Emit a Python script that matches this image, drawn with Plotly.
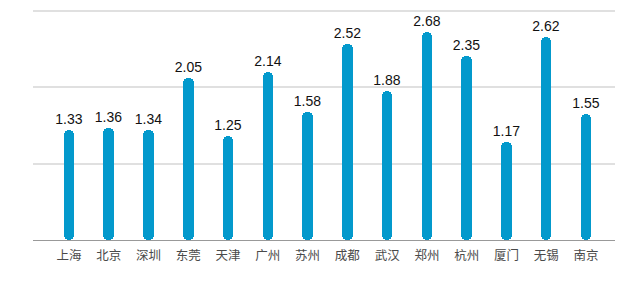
import plotly.graph_objects as go

cities = ["上海", "北京", "深圳", "东莞", "天津", "广州", "苏州", "成都",
          "武汉", "郑州", "杭州", "厦门", "无锡", "南京"]
values = [1.33, 1.36, 1.34, 2.05, 1.25, 2.14, 1.58, 2.52,
          1.88, 2.68, 2.35, 1.17, 2.62, 1.55]
value_labels = ["1.33", "1.36", "1.34", "2.05", "1.25", "2.14", "1.58", "2.52",
                "1.88", "2.68", "2.35", "1.17", "2.62", "1.55"]

y_min, y_top = -0.176, 2.972
n_grid = 3
grid_vals = [y_min + (y_top - y_min) * k / n_grid for k in range(1, n_grid + 1)]

fig = go.Figure(go.Bar(
    x=cities,
    y=[v - y_min for v in values],
    base=y_min,
    width=0.265,
    marker=dict(color="#0399cc", line=dict(width=0), cornerradius="50%"),
    text=value_labels,
    textposition="outside",
    constraintext="none",
    cliponaxis=False,
    textfont=dict(family="Liberation Sans, Arial, sans-serif", size=14, color="#111111"),
    hoverinfo="skip",
))

fig.update_layout(
    width=630, height=287,
    margin=dict(l=33, r=15, t=10, b=47),
    paper_bgcolor="white", plot_bgcolor="white",
    showlegend=False,
    bargap=0,
    xaxis=dict(
        range=[-0.905, 13.73],
        showgrid=False, zeroline=False,
        showline=True, linecolor="#999999", linewidth=1,
        ticks="", ticklabelstandoff=4,
        tickfont=dict(family="Noto Sans CJK SC, sans-serif", size=12.5, color="#4a4a4a"),
    ),
    yaxis=dict(
        range=[y_min, y_top + 0.015],
        tickvals=grid_vals,
        showticklabels=False,
        showgrid=True, gridcolor="#e0e0e0", gridwidth=1.5,
        zeroline=False, showline=False,
    ),
)

fig.write_html("out.html")
